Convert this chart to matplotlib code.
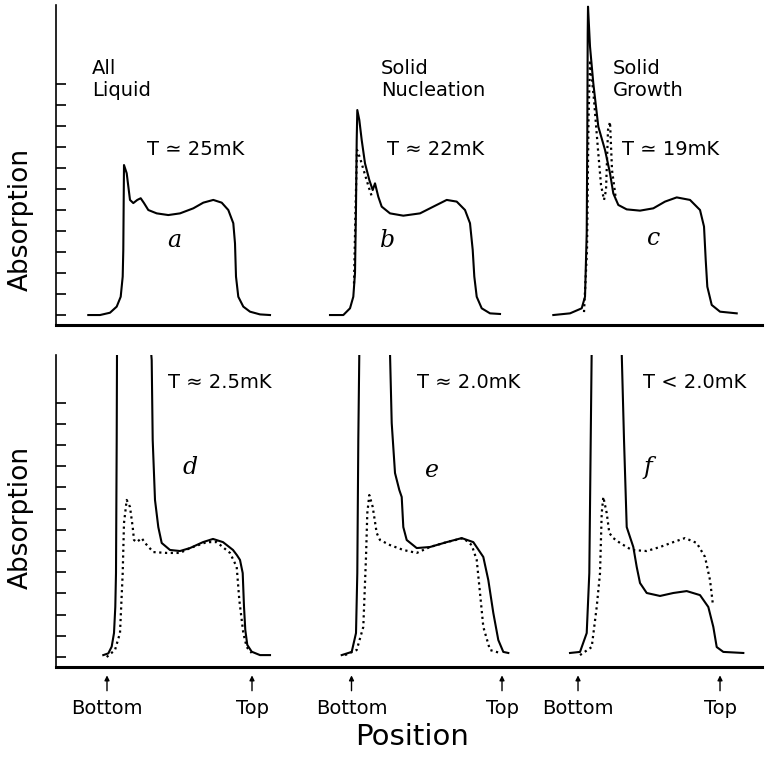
import matplotlib.pyplot as plt

# Positions in arbitrary units along the cell, absorption in tick units
# ---- upper row (a, b, c) ----
a_pos = [32.3, 44, 54, 60.7, 64.7, 66.7, 67.3, 67.7, 68, 70.7, 72.3, 74, 77.3, 81.3, 84.7,
         88, 92.3, 100.7, 112.3, 124, 137.3, 147.3, 157.3, 165.7, 172.3, 177.3, 179, 180,
         182.3, 187.3, 194, 204, 214]
a_abs = [0, 0, 0.11, 0.40, 0.87, 1.83, 3.1, 5.48, 7.14, 6.75, 6.13, 5.48, 5.33, 5.48, 5.56,
         5.33, 5.0, 4.84, 4.76, 4.84, 5.08, 5.35, 5.48, 5.35, 5.0, 4.37, 3.41, 1.83, 0.87,
         0.40, 0.16, 0.03, 0]

b_pos = [274, 287.3, 294, 297.3, 299, 300, 300.7, 301.3, 303.3, 305.7, 309, 313.3, 316.7,
         319, 322.3, 325.7, 334, 347.3, 364, 377.3, 390.7, 400.7, 409, 414, 416.7, 418.3,
         420.7, 425.7, 434, 444]
b_abs = [0, 0, 0.32, 0.87, 2.0, 5.16, 8.33, 9.76, 9.29, 8.33, 7.22, 6.43, 5.95, 6.27, 5.63,
         5.16, 4.84, 4.73, 4.84, 5.16, 5.48, 5.40, 5.0, 4.37, 3.10, 1.83, 0.87, 0.32, 0.08,
         0.05]
b_dot_pos = [298, 299.5, 301, 304, 307, 310, 313, 316]
b_dot_abs = [1.5, 5.0, 7.86, 7.48, 7.0, 6.52, 6.05, 5.62]

c_pos = [497.3, 514, 525.7, 529, 530.7, 531.3, 531.7, 532, 534, 537.3, 542.3, 549, 554,
         557.3, 562.3, 570.7, 584, 597.3, 609, 620.7, 634, 644, 648, 649.7, 651.3, 655.7,
         664, 680.7]
c_abs = [0, 0.08, 0.32, 0.87, 3.89, 8.65, 13.41, 14.68, 12.78, 11.03, 8.97, 7.86, 6.75,
         5.79, 5.24, 5.03, 4.97, 5.08, 5.40, 5.60, 5.48, 5.0, 4.21, 2.62, 1.35, 0.48, 0.16,
         0.08]
c_dot_pos = [528, 531, 532.5, 534, 538, 542, 545, 548, 550, 552, 554, 556, 560]
c_dot_abs = [0.14, 3.10, 9.29, 12.14, 10.24, 7.86, 6.19, 5.48, 5.95, 8.81, 9.19, 6.90, 5.48]

# ---- lower row (d, e, f) ; main peak runs off scale ----
d_pos = [47.3, 52.3, 55.7, 58, 59.3, 60, 60.7, 61, 78, 95.7, 96.7, 99, 102.3, 105.7, 114,
         124, 134, 147, 157, 167, 177, 181, 184, 186.7, 188, 189.3, 191.3, 195.7, 204, 214]
d_abs = [0.09, 0.17, 0.49, 1.13, 2.36, 3.96, 10.24, 14.34, 25, 14.01, 10.24, 7.41, 6.13,
         5.38, 5.05, 5.0, 5.14, 5.42, 5.57, 5.42, 5.05, 4.8, 4.58, 3.96, 2.37, 1.27, 0.57,
         0.25, 0.09, 0.09]
d_dot_pos = [50.7, 59, 64, 66.7, 68, 70.7, 74, 76.7, 78, 80.7, 85.7, 89, 97.3, 110.7, 124,
             134, 150.7, 160.7, 174, 180.7, 183.3, 187.3, 190.7, 195.7]
d_dot_abs = [0, 0.33, 1.13, 3.96, 6.32, 7.41, 7.08, 6.13, 5.52, 5.42, 5.61, 5.38, 4.95,
             4.91, 4.91, 5.14, 5.42, 5.42, 4.91, 4.25, 2.69, 1.13, 0.47, 0.19]

e_pos = [285.7, 295.7, 300, 301.3, 302.3, 303.3, 319, 334, 335.7, 339, 343.3, 345.7, 347.3,
         350.7, 360.7, 374, 390.7, 405.7, 417.3, 427.3, 432.3, 437.3, 442.3, 447.3, 452.3]
e_abs = [0.09, 0.24, 1.13, 3.96, 10.24, 14.34, 25, 14.34, 11.04, 8.68, 7.88, 7.55, 6.13,
         5.52, 5.14, 5.19, 5.42, 5.61, 5.42, 4.72, 3.63, 2.08, 0.80, 0.24, 0.19]
e_dot_pos = [289, 300.7, 307.3, 310, 311.3, 313.3, 316.7, 320.7, 324, 334, 347.3, 360.7,
             374, 390.7, 407.3, 415.7, 420.7, 424, 427.3, 434, 444]
e_dot_abs = [0.09, 0.33, 1.42, 4.72, 6.79, 7.64, 7.08, 5.85, 5.52, 5.28, 5.05, 4.91, 5.19,
             5.42, 5.61, 5.28, 4.58, 3.02, 1.42, 0.33, 0.19]

f_pos = [514, 524, 530.7, 533.3, 534.7, 535.7, 551, 565.7, 568, 570.7, 574, 577.3, 580.7,
         584, 590.7, 604, 617.3, 630.7, 644, 652.3, 657.3, 660.7, 667.3, 687.3]
f_abs = [0.19, 0.24, 1.13, 3.96, 10.24, 14.58, 25, 14.34, 10.24, 6.13, 5.66, 5.19, 4.25,
         3.49, 3.02, 2.88, 3.02, 3.11, 2.92, 2.36, 1.42, 0.47, 0.24, 0.19]
f_dot_pos = [524, 535.7, 540.7, 544, 545.7, 547.3, 550.7, 553.3, 557.3, 564, 575.7, 590.7,
             604, 617.3, 629, 640.7, 649, 654, 656.7]
f_dot_abs = [0.09, 0.47, 2.36, 3.96, 6.79, 7.55, 6.79, 5.85, 5.61, 5.38, 5.05, 5.0, 5.19,
             5.42, 5.61, 5.38, 4.72, 3.63, 2.55]

top_labels = ['All\nLiquid', 'Solid\nNucleation', 'Solid\nGrowth']
top_temps = ['T ≃ 25mK', 'T ≈ 22mK', 'T ≃ 19mK']
bottom_temps = ['T ≈ 2.5mK', 'T ≈ 2.0mK', 'T < 2.0mK']
panel_letters = ['a', 'b', 'c', 'd', 'e', 'f']
bottom_marks = [51, 295.5, 522]
top_marks = [196, 446, 664]

fig = plt.figure(figsize=(7.66, 7.58), dpi=100)
ax1 = fig.add_axes([0.0731, 0.5712, 0.9217, 0.4222])
ax2 = fig.add_axes([0.0731, 0.1201, 0.9217, 0.4116])

solid = dict(color='black', linewidth=1.5, solid_joinstyle='round')
dotted = dict(color='black', linewidth=1.6, linestyle=(0, (1, 1.6)))

ax1.plot(a_pos, a_abs, **solid)
ax1.plot(b_pos, b_abs, **solid)
ax1.plot(b_dot_pos, b_dot_abs, **dotted)
ax1.plot(c_pos, c_abs, **solid)
ax1.plot(c_dot_pos, c_dot_abs, **dotted)

ax2.plot(d_pos, d_abs, **solid)
ax2.plot(d_dot_pos, d_dot_abs, **dotted)
ax2.plot(e_pos, e_abs, **solid)
ax2.plot(e_dot_pos, e_dot_abs, **dotted)
ax2.plot(f_pos, f_abs, **solid)
ax2.plot(f_dot_pos, f_dot_abs, **dotted)

ax1.set_xlim(0, 706)
ax1.set_ylim(-0.476, 14.76)
ax2.set_xlim(0, 706)
ax2.set_ylim(-0.47, 14.25)
ax1.set_yticks(range(12))
ax2.set_yticks(range(13))

for ax in (ax1, ax2):
    ax.spines['top'].set_visible(False)
    ax.spines['right'].set_visible(False)
    ax.spines['left'].set_linewidth(1.2)
    ax.spines['bottom'].set_linewidth(2.2)
    ax.set_xticks([])
    ax.tick_params(axis='y', direction='in', length=7, width=1.2, labelleft=False)
    ax.set_ylabel('Absorption', fontsize=19)

ax1.yaxis.set_label_coords(-0.031, 0.33)
ax2.yaxis.set_label_coords(-0.031, 0.478)

# text in the upper row
for x, lab in zip([36, 325, 557], top_labels):
    ax1.text(x, 12.2, lab, fontsize=14, va='top', ha='left')
for x, lab in zip([91, 331, 566], top_temps):
    ax1.text(x, 7.9, lab, fontsize=14, va='center', ha='left')
for x, y, lab in zip([111, 324, 591], [3.57, 3.57, 3.65], panel_letters[:3]):
    ax1.text(x, y, lab, fontsize=17, family='DejaVu Serif', style='italic',
             va='center', ha='left')

# text in the lower row
for x, lab in zip([112, 361, 587], bottom_temps):
    ax2.text(x, 12.97, lab, fontsize=14, va='center', ha='left')
for x, y, lab in zip([127, 369, 587], [8.96, 8.82, 8.96], panel_letters[3:]):
    ax2.text(x, y, lab, fontsize=17, family='DejaVu Serif', style='italic',
             va='center', ha='left')

# Bottom / Top markers under the lower axis
for xb, xt in zip(bottom_marks, top_marks):
    for x, lab in ((xb, 'Bottom'), (xt, 'Top')):
        ax2.annotate('', xy=(x, -0.018), xytext=(x, -0.085),
                     xycoords=('data', 'axes fraction'), textcoords=('data', 'axes fraction'),
                     arrowprops=dict(arrowstyle='-|>', color='black', lw=1.0,
                                     mutation_scale=7))
        ax2.text(x, -0.133, lab, fontsize=14, ha='center', va='center',
                 transform=ax2.get_xaxis_transform())

fig.text(412 / 766, 1 - 737 / 758, 'Position', fontsize=21, ha='center', va='center')

plt.savefig('out.png', dpi=100)
